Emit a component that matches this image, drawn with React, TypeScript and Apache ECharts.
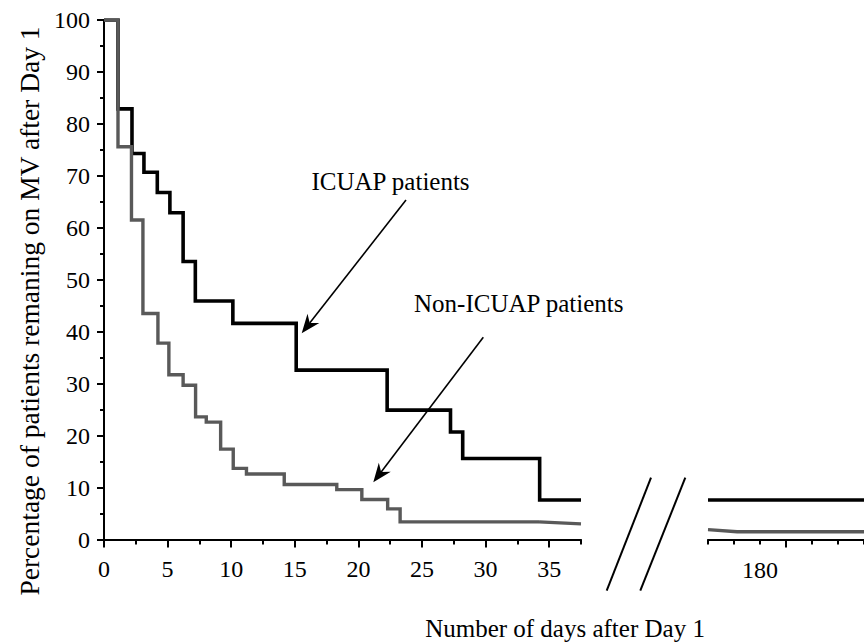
import React, { useEffect, useRef } from 'react';
import * as echarts from 'echarts';

// ICUAP patients (black step curve): day of change, % remaining from that day on
const icuapDays = [0, 1.1, 2.2, 3.14, 4.19, 5.18, 6.22, 7.18, 10.13, 15.11, 22.26, 27.24, 28.2, 34.25, 37.5];
const icuapPct = [100, 82.9, 74.3, 70.7, 66.8, 62.9, 53.5, 45.9, 41.6, 32.6, 24.9, 20.7, 15.6, 7.6, 7.6];

// Non-ICUAP patients (grey step curve)
const nonDays = [0, 1.1, 2.16, 3.06, 4.24, 5.1, 6.22, 7.2, 8.04, 9.17, 10.16, 11.2, 14.17, 18.3, 20.27, 22.3, 23.28, 34.2];
const nonPct = [100, 75.6, 61.5, 43.5, 37.8, 31.7, 29.7, 23.6, 22.6, 17.4, 13.7, 12.6, 10.6, 9.6, 7.7, 5.9, 3.4, 3.4];
const nonTailDays = [34.2, 37.5];
const nonTailPct = [3.4, 3.0];

// Late follow-up panel (after the axis break)
const lateDays = [172.5, 175.3, 187.5];
const lateIcuapPct = [7.6, 7.6, 7.6];
const lateNonPct = [1.9, 1.5, 1.5];

// Tick values / labels
const xMajorTicks = [0, 5, 10, 15, 20, 25, 30, 35];
const xMinorTicks = [2.5, 7.5, 12.5, 17.5, 22.5, 27.5, 32.5, 37.5];
const lateMinorTicks = [172.5, 175, 177.5, 182.5, 185, 187.5];
const lateMajorTicks = [180];
const lateTickLabel = '180';

const yTitle = 'Percentage of patients remaning on MV after Day 1';
const xTitle = 'Number of days after Day 1';
const icuapLabel = 'ICUAP patients';
const nonLabel = 'Non-ICUAP patients';

const FONT = 'Liberation Serif, Times New Roman, serif';

function pair(xs: number[], ys: number[]) {
  return xs.map((x, i) => [x, ys[i]]);
}

function arrow(x1: number, y1: number, x2: number, y2: number) {
  const dx = x2 - x1, dy = y2 - y1;
  const L = Math.hypot(dx, dy);
  const ux = dx / L, uy = dy / L;
  const px = -uy, py = ux;
  const hl = 19, hw = 7.5, notch = 13;
  const bx = x2 - ux * hl, by = y2 - uy * hl;
  const nx = x2 - ux * notch, ny = y2 - uy * notch;
  return [
    { type: 'line', shape: { x1, y1, x2: nx, y2: ny }, style: { stroke: '#000', lineWidth: 1.6 } },
    {
      type: 'polygon',
      shape: { points: [[x2, y2], [bx + px * hw, by + py * hw], [nx, ny], [bx - px * hw, by - py * hw]] },
      style: { fill: '#000' },
    },
  ];
}

function txt(text: string, x: number, y: number, size: number, align: string, rotation = 0) {
  return {
    type: 'text',
    x,
    y,
    rotation,
    style: {
      text,
      font: `${size}px ${FONT}`,
      fill: '#000',
      align,
      verticalAlign: 'middle',
      textAlign: align,
      textVerticalAlign: 'middle',
    },
  };
}

export default function App() {
  const ref = useRef<HTMLDivElement>(null);
  useEffect(() => {
    const chart = echarts.init(ref.current!, undefined, { renderer: 'svg' });
    const axisLine = { show: true, onZero: false, lineStyle: { color: '#000', width: 2 } };
    const tickStyle = { color: '#000', width: 2 };
    const labelStyle = { color: '#000', fontSize: 24, fontFamily: FONT };
    const lineBlack = { color: '#000', width: 3.6, join: 'miter', cap: 'butt' };
    const lineGrey = { color: '#595959', width: 3.4, join: 'miter', cap: 'butt' };

    chart.setOption({
      animation: false,
      backgroundColor: '#fff',
      textStyle: { fontFamily: FONT },
      grid: [
        { left: 104, top: 20, width: 477, height: 519.5 },
        { left: 708, top: 20, width: 190, height: 519.5 },
      ],
      xAxis: [
        {
          type: 'value', gridIndex: 0, min: 0, max: 37.5, position: 'bottom',
          axisLine,
          axisTick: { show: true, customValues: xMajorTicks, length: 8, lineStyle: tickStyle },
          axisLabel: { show: true, customValues: xMajorTicks, margin: 17, ...labelStyle },
          splitLine: { show: false },
        },
        {
          type: 'value', gridIndex: 0, min: 0, max: 37.5, position: 'bottom',
          axisLine: { show: false },
          axisTick: { show: true, customValues: xMinorTicks, length: 5, lineStyle: tickStyle },
          axisLabel: { show: false },
          splitLine: { show: false },
        },
        {
          type: 'value', gridIndex: 1, min: 172.5, max: 187.5, position: 'bottom',
          axisLine,
          axisTick: { show: true, customValues: lateMinorTicks, length: 5, lineStyle: tickStyle },
          axisLabel: { show: false },
          splitLine: { show: false },
        },
        {
          type: 'value', gridIndex: 1, min: 172.5, max: 187.5, position: 'bottom',
          axisLine: { show: false },
          axisTick: { show: true, customValues: lateMajorTicks, length: 8, lineStyle: tickStyle },
          axisLabel: { show: false },
          splitLine: { show: false },
        },
      ],
      yAxis: [
        {
          type: 'value', gridIndex: 0, min: 0, max: 100, interval: 10,
          axisLine,
          axisTick: { show: true, length: 7, lineStyle: tickStyle },
          minorTick: { show: true, splitNumber: 2, length: 4, lineStyle: tickStyle },
          axisLabel: { show: true, margin: 14, ...labelStyle },
          splitLine: { show: false },
          minorSplitLine: { show: false },
        },
        { type: 'value', gridIndex: 1, min: 0, max: 100, show: false, splitLine: { show: false } },
      ],
      series: [
        {
          name: icuapLabel, type: 'line', step: 'end', xAxisIndex: 0, yAxisIndex: 0,
          data: pair(icuapDays, icuapPct), symbol: 'none', lineStyle: lineBlack, z: 2,
        },
        {
          name: nonLabel, type: 'line', step: 'end', xAxisIndex: 0, yAxisIndex: 0,
          data: pair(nonDays, nonPct), symbol: 'none', lineStyle: lineGrey, z: 3,
        },
        {
          name: nonLabel + ' tail', type: 'line', xAxisIndex: 0, yAxisIndex: 0,
          data: pair(nonTailDays, nonTailPct), symbol: 'none', lineStyle: lineGrey, z: 3,
        },
        {
          name: icuapLabel + ' late', type: 'line', xAxisIndex: 2, yAxisIndex: 1,
          data: pair(lateDays, lateIcuapPct), symbol: 'none', lineStyle: lineBlack, z: 2,
        },
        {
          name: nonLabel + ' late', type: 'line', xAxisIndex: 2, yAxisIndex: 1,
          data: pair(lateDays, lateNonPct), symbol: 'none', lineStyle: lineGrey, z: 3,
        },
      ],
      graphic: {
        elements: [
          txt(icuapLabel, 311.5, 181.5, 25, 'left'),
          txt(nonLabel, 414, 303, 25, 'left'),
          txt(xTitle, 565, 628.5, 25, 'center'),
          txt(yTitle, 29, 311, 27.5, 'center', Math.PI / 2),
          txt(lateTickLabel, 760, 570, 24, 'center'),
          ...arrow(406, 200, 301.7, 333.3),
          ...arrow(483.3, 337.3, 373.3, 482.3),
          { type: 'line', shape: { x1: 651, y1: 477.7, x2: 606.7, y2: 590.7 }, style: { stroke: '#000', lineWidth: 2 } },
          { type: 'line', shape: { x1: 685.3, y1: 477.7, x2: 640.3, y2: 590.7 }, style: { stroke: '#000', lineWidth: 2 } },
        ],
      },
    });
    return () => chart.dispose();
  }, []);
  return (
    <div
      ref={ref}
      style={{ position: 'fixed', left: 0, top: 0, width: 864, height: 644, background: '#fff' }}
    />
  );
}
